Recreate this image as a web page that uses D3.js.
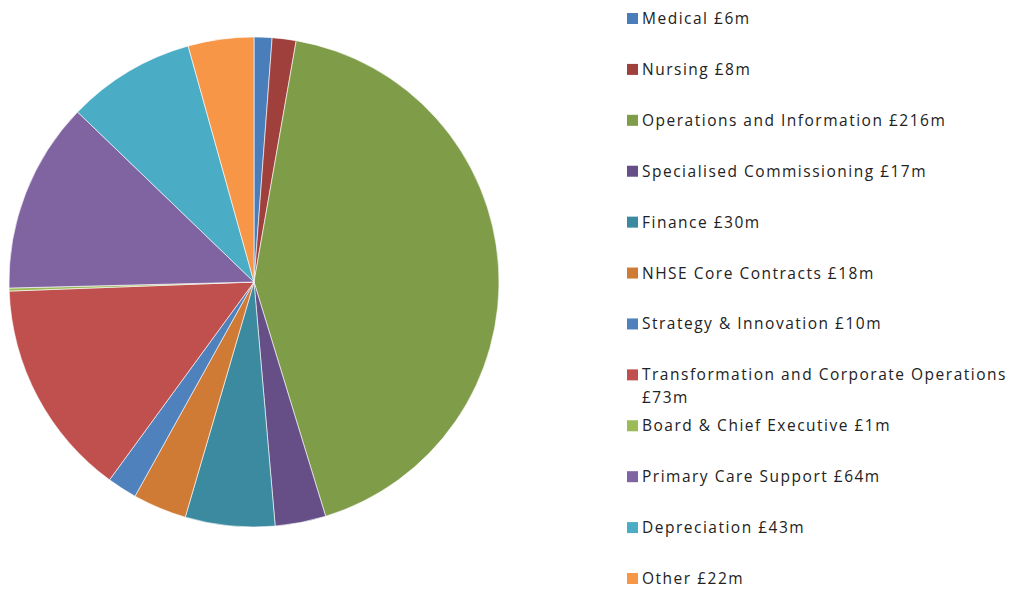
<!DOCTYPE html>
<html>
<head>
<meta charset="utf-8">
<script src="https://cdn.jsdelivr.net/npm/d3@7"></script>
<style>
  body { margin: 0; background: #fff; }
  text { font-family: "Open Sans", "Liberation Sans", sans-serif; fill: #222; }
</style>
</head>
<body>
<svg width="1011" height="589"></svg>
<script>
const categories = [
    'Medical', 'Nursing', 'Operations and Information', 'Specialised Commissioning',
    'Finance', 'NHSE Core Contracts', 'Strategy & Innovation',
    'Transformation and Corporate Operations', 'Board & Chief Executive',
    'Primary Care Support', 'Depreciation', 'Other'
];
const values = [6, 8, 216, 17, 30, 18, 10, 73, 1, 64, 43, 22];
const labels = [
    ['Medical £6m'], ['Nursing £8m'], ['Operations and Information £216m'],
    ['Specialised Commissioning £17m'], ['Finance £30m'], ['NHSE Core Contracts £18m'],
    ['Strategy & Innovation £10m'], ['Transformation and Corporate Operations', '£73m'],
    ['Board & Chief Executive £1m'], ['Primary Care Support £64m'],
    ['Depreciation £43m'], ['Other £22m']
];
const colours = [
    '#4a7ebb', '#a0403d', '#7f9c48', '#664f87', '#3b8a9f', '#cf7b35',
    '#4f81bd', '#c0504d', '#9bbb59', '#8064a2', '#4bacc6', '#f79646'
];

const data = categories.map((c, i) => ({ name: c, value: values[i], label: labels[i] }));

const svg = d3.select('svg');
const cx = 254, cy = 282, radius = 245;

const colour = d3.scaleOrdinal().domain(categories).range(colours);
const pie = d3.pie().sort(null).value(d => d.value);
const arc = d3.arc().innerRadius(0).outerRadius(radius);

svg.append('g')
    .attr('transform', 'translate(' + cx + ',' + cy + ')')
    .selectAll('path')
    .data(pie(data))
    .enter()
    .append('path')
    .attr('d', arc)
    .attr('fill', d => colour(d.data.name))
    .attr('stroke', '#fff')
    .attr('stroke-width', 0.6);

// legend
const rowY = d3.scaleLinear().domain([0, categories.length - 1]).range([18, 578]);
const legend = svg.append('g');
const item = legend.selectAll('g')
    .data(data)
    .enter()
    .append('g')
    .attr('transform', (d, i) => 'translate(627,' + rowY(i) + ')');

item.append('rect')
    .attr('x', 0)
    .attr('y', -5)
    .attr('width', 11)
    .attr('height', 11)
    .attr('fill', d => colour(d.name));

item.append('text')
    .attr('x', 15)
    .attr('y', 6)
    .attr('font-size', 15.5)
    .attr('letter-spacing', 1.5)
    .selectAll('tspan')
    .data(d => d.label)
    .enter()
    .append('tspan')
    .attr('x', 15)
    .attr('dy', (d, i) => i === 0 ? 0 : 23)
    .text(d => d);
</script>
</body>
</html>
